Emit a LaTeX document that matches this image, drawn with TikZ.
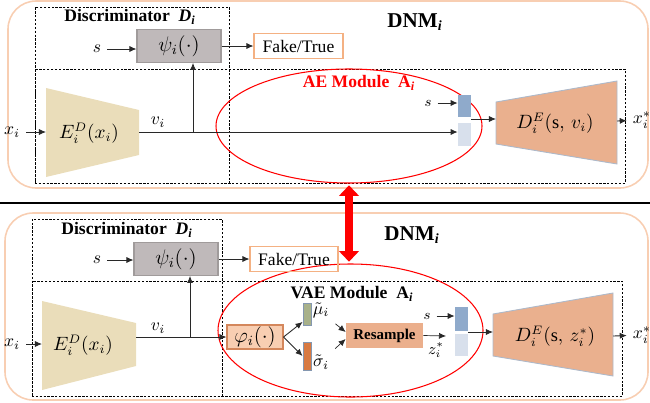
\documentclass[tikz,border=0pt]{standalone}
\usepackage{amsmath}
\usepackage{fontspec}
\setmainfont{Liberation Serif}
\usetikzlibrary{arrows.meta,shapes.geometric}

\begin{document}
\begin{tikzpicture}[scale=1, transform shape,
	wire/.style={-{Latex[length=4pt,width=3.5pt]}, line width=0.5pt, draw={rgb,255:red,40;green,40;blue,40}},
	dashbox/.style={shape=rectangle, draw, dash pattern={on 1.3pt off 0.9pt}, line width=0.55pt, inner sep=0pt},
	panel/.style={shape=rectangle, draw={rgb,255:red,248;green,206;blue,178}, line width=0.9pt, rounded corners=16pt, inner sep=0pt},
	bar/.style={shape=rectangle, draw={rgb,255:red,132;green,151;blue,176}, line width=0.5pt, minimum width=0.16cm, inner sep=0pt},
	catbar/.style={shape=rectangle, minimum width=0.26cm, inner sep=0pt}]

	% Paths, nodes and wires:
	\useasboundingbox (0, 0) rectangle (13, 8.04);

	% top panel: DNM with AE module
	\node[panel, minimum width=12.8cm, minimum height=3.74cm](dnm1box) at (6.56, 6.15){};
	\node[dashbox, minimum width=3.88cm, minimum height=3.52cm](disc1box) at (2.64, 6.14){};
	\node[dashbox, minimum width=11.8cm, minimum height=2.28cm](ae1box) at (6.6, 5.52){};
	\node[shape=ellipse, draw=red, line width=0.6pt, inner sep=0pt, minimum width=5.32cm, minimum height=2.28cm](ae1) at (6.98, 5.52){};
	\node[font=\bfseries](disc1) at (2.6, 7.7){Discriminator\enspace\textit{D}\textsubscript{\textit{i}}};
	\node[font=\bfseries\large](dnm1) at (8.3, 7.6){DNM\textsubscript{\textit{i}}};
	\node[font=\bfseries, text=red](ae1lbl) at (7.18, 6.38){AE Module\enspace A\textsubscript{\textit{i}}};
	\node(s1) at (1.94, 7.06){$s$};
	\node[shape=rectangle, fill={rgb,255:red,191;green,185;blue,186}, draw={rgb,255:red,160;green,155;blue,155}, line width=0.6pt, minimum width=1.68cm, minimum height=0.5cm, font=\large](psi1) at (3.58, 7.12){$\psi_i(\cdot)$};
	\node[shape=rectangle, draw={rgb,255:red,244;green,177;blue,131}, line width=0.6pt, minimum width=1.78cm, minimum height=0.5cm](fake1) at (5.97, 7.12){Fake/True};
	\fill[fill={rgb,255:red,234;green,221;blue,186}] (0.92, 6.28) -- (2.78, 5.84) -- (2.78, 4.94) -- (0.92, 4.5) -- cycle;
	\node[font=\fontsize{10.5}{12}\selectfont](enc1) at (1.78, 5.38){$E_i^D(x_i)$};
	\coordinate (enc1in) at (0.92, 5.4);
	\coordinate (enc1out) at (2.78, 5.4);
	\coordinate (j1) at (3.86, 5.4);
	\node(xin1) at (0.24, 5.4){$x_i$};
	\node(v1) at (3.16, 5.6){$v_i$};
	\node[catbar, fill={rgb,255:red,143;green,170;blue,203}, minimum height=0.44cm](bl1) at (9.29, 5.92){};
	\node[catbar, fill={rgb,255:red,216;green,224;blue,236}, minimum height=0.46cm](lt1) at (9.29, 5.35){};
	\coordinate (cat1) at (9.42, 5.66);
	\node[font=\footnotesize](ss1) at (8.56, 5.98){$s$};
	\draw[fill={rgb,255:red,234;green,176;blue,142}, draw={rgb,255:red,173;green,185;blue,202}, line width=0.5pt] (9.92, 6) -- (12.34, 6.42) -- (12.34, 4.76) -- (9.92, 5.16) -- cycle;
	\node[font=\fontsize{10.5}{12}\selectfont](dec1) at (11.1, 5.58){$D_i^E(\mathrm{s},\, v_i)$};
	\coordinate (dec1in) at (9.92, 5.66);
	\coordinate (dec1out) at (12.34, 5.62);
	\node(xo1) at (12.84, 5.64){$x_i^*$};
	\draw[wire] (xin1) -- (enc1in);
	\draw[line width=0.5pt, draw={rgb,255:red,40;green,40;blue,40}] (enc1out) -- (j1);
	\draw[wire] (j1) -- (j1 -| lt1.west);
	\draw[wire] (j1) -- (j1 |- psi1.south);
	\draw[wire] (s1) -- (s1 -| psi1.west);
	\draw[wire] (psi1) -- (fake1);
	\draw[wire] (ss1) -- (ss1 -| bl1.west);
	\draw[wire] (cat1) -- (dec1in);
	\draw[wire] (dec1out) -- (xo1);

	% separator
	\draw[line width=0.8pt] (0, 3.98) -- (13, 3.98);

	% bottom panel: DNM with VAE module
	\node[panel, minimum width=12.86cm, minimum height=3.74cm](dnm2box) at (6.53, 1.91){};
	\node[dashbox, minimum width=3.8cm, minimum height=3.54cm](disc2box) at (2.54, 1.89){};
	\node[dashbox, minimum width=11.8cm, minimum height=2.3cm](ae2box) at (6.54, 1.27){};
	\node[shape=ellipse, draw=red, line width=0.6pt, inner sep=0pt, minimum width=5.3cm, minimum height=2.66cm](ae2) at (7.01, 1.43){};
	\node[font=\bfseries](disc2) at (2.54, 3.44){Discriminator\enspace\textit{D}\textsubscript{\textit{i}}};
	\node[font=\bfseries\large](dnm2) at (8.24, 3.34){DNM\textsubscript{\textit{i}}};
	\node[font=\bfseries](ae2lbl) at (7.04, 2.16){VAE Module\enspace A\textsubscript{\textit{i}}};
	\node(s2) at (1.94, 2.84){$s$};
	\node[shape=rectangle, fill={rgb,255:red,191;green,185;blue,186}, draw={rgb,255:red,160;green,155;blue,155}, line width=0.6pt, minimum width=1.68cm, minimum height=0.48cm, font=\large](psi2) at (3.52, 2.86){$\psi_i(\cdot)$};
	\node[shape=rectangle, draw={rgb,255:red,244;green,177;blue,131}, line width=0.6pt, minimum width=1.76cm, minimum height=0.5cm](fake2) at (5.88, 2.86){Fake/True};
	\fill[fill={rgb,255:red,234;green,221;blue,186}] (0.84, 2.02) -- (2.72, 1.58) -- (2.72, 0.72) -- (0.84, 0.24) -- cycle;
	\node[font=\fontsize{10.5}{12}\selectfont](enc2) at (1.66, 1.14){$E_i^D(x_i)$};
	\coordinate (enc2in) at (0.84, 1.16);
	\coordinate (enc2out) at (2.72, 1.3);
	\coordinate (j2) at (3.8, 1.3);
	\node(xin2) at (0.24, 1.16){$x_i$};
	\node(v2) at (3.16, 1.48){$v_i$};
	\node[shape=rectangle, fill={rgb,255:red,248;green,206;blue,178}, draw={rgb,255:red,212;green,135;blue,92}, line width=0.6pt, minimum width=1.12cm, minimum height=0.48cm, inner sep=0pt, font=\large](phi2) at (5.1, 1.3){$\varphi_i(\cdot)$};
	\node[bar, fill={rgb,255:red,168;green,177;blue,138}, minimum height=0.44cm](mu2) at (6.14, 1.76){};
	\node[bar, fill={rgb,255:red,216;green,122;blue,66}, minimum height=0.56cm](sig2) at (6.14, 0.92){};
	\node(mu2lbl) at (6.42, 1.84){$\tilde{\mu}_i$};
	\node(sig2lbl) at (6.42, 0.8){$\tilde{\sigma}_i$};
	\node[shape=rectangle, fill={rgb,255:red,235;green,175;blue,140}, minimum width=1.54cm, minimum height=0.5cm, font=\bfseries\fontsize{8.5}{10}\selectfont](res2) at (7.69, 1.33){Resample};
	\coordinate (zend) at (8.92, 1.32);
	\node[font=\small](z2) at (8.72, 1.04){$z_i^*$};
	\node[font=\footnotesize](ss2) at (8.54, 1.72){$s$};
	\node[catbar, fill={rgb,255:red,143;green,170;blue,203}, minimum height=0.48cm](bl2) at (9.23, 1.66){};
	\node[catbar, fill={rgb,255:red,216;green,224;blue,236}, minimum height=0.44cm](lt2) at (9.23, 1.14){};
	\coordinate (cat2) at (9.36, 1.4);
	\draw[fill={rgb,255:red,234;green,176;blue,142}, draw={rgb,255:red,173;green,185;blue,202}, line width=0.5pt] (9.86, 1.76) -- (12.26, 2.18) -- (12.26, 0.52) -- (9.86, 0.92) -- cycle;
	\node[font=\fontsize{10.5}{12}\selectfont](dec2) at (11.1, 1.32){$D_i^E(\mathrm{s},\, z_i^*)$};
	\coordinate (dec2in) at (9.86, 1.4);
	\coordinate (dec2out) at (12.26, 1.32);
	\node(xo2) at (12.84, 1.34){$x_i^*$};
	\draw[wire] (xin2) -- (enc2in);
	\draw[line width=0.5pt, draw={rgb,255:red,40;green,40;blue,40}] (enc2out) -- (j2);
	\draw[wire] (j2) -- (phi2);
	\draw[wire] (j2) -- (j2 |- psi2.south);
	\draw[wire] (s2) -- (s2 -| psi2.west);
	\draw[wire] (psi2) -- (fake2);
	\draw[wire] (phi2.east) -- ([yshift=2pt]mu2.south west);
	\draw[wire] (phi2.east) -- (sig2.west);
	\draw[wire, line width=0.4pt] (mu2lbl.south east) -- ([yshift=2pt]res2.west);
	\draw[wire, line width=0.4pt] (sig2lbl.north east) -- ([yshift=-2pt]res2.west);
	\draw[wire, line width=0.4pt] (res2.east) -- (zend);
	\draw[wire] (ss2) -- (ss2 -| bl2.west);
	\draw[wire] (cat2) -- (dec2in);
	\draw[wire] (dec2out) -- (xo2);

	% link between the two modules
	\draw[red, line width=4.5pt, {Triangle[length=6pt, width=11pt]}-{Triangle[length=6pt, width=11pt]}] ([yshift=-1pt]ae1.south) -- ([yshift=1pt]ae1.south |- ae2.north);


\end{tikzpicture}
\end{document}
